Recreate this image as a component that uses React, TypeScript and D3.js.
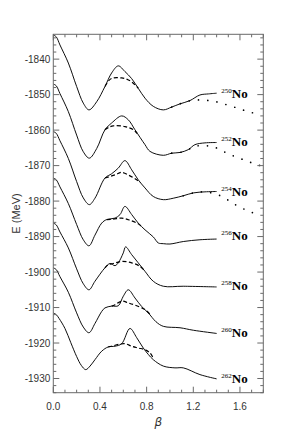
import React from "react";
import * as d3 from "d3";

type P = [number, number];

const nuclei = ["250", "252", "254", "256", "258", "260", "262"];
const labelE = [-1851.0, -1864.6, -1878.7, -1890.9, -1905.0, -1918.3, -1931.2];
const labelBeta = 1.44;

const solid250: P[] = [[0,-1833.2],[0.025,-1833.7],[0.057,-1836.0],[0.129,-1841.1],[0.2,-1847.7],[0.257,-1852.4],[0.306,-1854.3],[0.372,-1852.0],[0.443,-1847.7],[0.5,-1843.9],[0.557,-1841.9],[0.614,-1843.5],[0.672,-1845.5],[0.728,-1848.2],[0.786,-1851.0],[0.857,-1853.3],[0.943,-1854.3],[1.015,-1853.5],[1.086,-1852.6],[1.17,-1851.7],[1.257,-1850.1],[1.33,-1849.8],[1.4,-1849.6]];
const dashed250: P[] = [[0.443,-1847.7],[0.48,-1845.9],[0.514,-1845.3],[0.586,-1845.3],[0.64,-1845.8],[0.686,-1846.8],[0.728,-1848.2]];
const dotted250: P[] = [[1.015,-1853.5],[1.086,-1852.6],[1.17,-1851.7],[1.257,-1851.5],[1.343,-1851.7],[1.422,-1852.2],[1.508,-1853.1],[1.589,-1853.9],[1.668,-1854.8],[1.751,-1855.4]];

const solid252: P[] = [[0,-1847.0],[0.025,-1847.5],[0.057,-1849.7],[0.129,-1854.8],[0.2,-1861.4],[0.257,-1866.1],[0.309,-1867.9],[0.372,-1865.2],[0.443,-1859.9],[0.5,-1858.0],[0.586,-1856.0],[0.643,-1857.1],[0.7,-1859.9],[0.786,-1864.1],[0.829,-1866.0],[0.943,-1867.1],[1.015,-1866.5],[1.086,-1866.3],[1.157,-1865.5],[1.214,-1864.1],[1.3,-1863.6],[1.4,-1863.5]];
const dashed252: P[] = [[0.443,-1859.9],[0.471,-1859.3],[0.514,-1858.8],[0.614,-1859.0],[0.686,-1859.9],[0.72,-1861.0]];
const dotted252: P[] = [[1.015,-1866.5],[1.086,-1866.3],[1.157,-1865.5],[1.2,-1864.6],[1.285,-1864.4],[1.362,-1864.6],[1.431,-1865.5],[1.5,-1866.7],[1.572,-1867.6],[1.643,-1868.5],[1.709,-1869.3],[1.78,-1870.1]];

const solid254: P[] = [[0,-1860.4],[0.025,-1860.9],[0.057,-1863.0],[0.129,-1868.0],[0.2,-1874.5],[0.257,-1879.1],[0.309,-1881.0],[0.357,-1879.2],[0.443,-1873.5],[0.5,-1872.3],[0.557,-1870.7],[0.614,-1868.6],[0.672,-1871.2],[0.728,-1874.0],[0.786,-1876.3],[0.857,-1878.7],[0.943,-1879.6],[1.028,-1879.2],[1.114,-1878.5],[1.2,-1877.7],[1.3,-1877.4],[1.4,-1877.3]];
const dashed254: P[] = [[0.443,-1873.5],[0.529,-1872.6],[0.586,-1871.9],[0.657,-1872.9],[0.715,-1874.0],[0.745,-1874.8]];
const dotted254: P[] = [[1.114,-1878.5],[1.2,-1877.7],[1.28,-1877.4],[1.37,-1877.8],[1.457,-1878.9],[1.529,-1880.4],[1.6,-1881.7],[1.68,-1882.9],[1.757,-1883.8]];

const solid256: P[] = [[0,-1873.5],[0.025,-1874.0],[0.057,-1876.0],[0.129,-1880.7],[0.2,-1886.6],[0.257,-1890.9],[0.306,-1892.6],[0.357,-1889.6],[0.415,-1886.2],[0.458,-1885.2],[0.529,-1884.8],[0.572,-1883.8],[0.614,-1881.5],[0.672,-1883.8],[0.728,-1886.2],[0.786,-1888.1],[0.857,-1890.1],[0.9,-1891.8],[0.943,-1892.0],[1.0,-1892.1],[1.114,-1891.4],[1.257,-1890.9],[1.4,-1890.7]];
const dashed256: P[] = [[0.458,-1885.2],[0.514,-1885.1],[0.586,-1884.8],[0.657,-1885.4],[0.728,-1886.4],[0.76,-1887.3]];

const solid258: P[] = [[0,-1886.2],[0.025,-1886.7],[0.057,-1888.7],[0.129,-1893.2],[0.2,-1899.1],[0.257,-1903.3],[0.306,-1905.0],[0.357,-1902.6],[0.443,-1898.8],[0.486,-1897.6],[0.529,-1898.2],[0.557,-1897.4],[0.6,-1894.6],[0.62,-1892.9],[0.672,-1895.1],[0.728,-1897.4],[0.786,-1899.8],[0.857,-1902.6],[0.943,-1904.0],[1.114,-1904.0],[1.4,-1904.2]];
const dashed258: P[] = [[0.443,-1898.8],[0.471,-1897.9],[0.514,-1897.6],[0.586,-1897.0],[0.672,-1897.4],[0.743,-1898.4],[0.786,-1899.8]];

const solid260: P[] = [[0,-1898.8],[0.025,-1899.3],[0.057,-1901.3],[0.129,-1905.7],[0.2,-1911.5],[0.257,-1915.5],[0.306,-1917.1],[0.357,-1914.5],[0.415,-1911.1],[0.443,-1910.1],[0.5,-1909.6],[0.557,-1909.5],[0.6,-1906.8],[0.643,-1905.0],[0.7,-1907.3],[0.757,-1909.7],[0.814,-1911.5],[0.88,-1914.0],[0.943,-1915.3],[1.086,-1915.7],[1.2,-1916.4],[1.4,-1917.3]];
const dashed260: P[] = [[0.5,-1909.6],[0.529,-1909.2],[0.586,-1908.2],[0.643,-1908.7],[0.715,-1909.5],[0.786,-1910.6],[0.829,-1911.9]];

const solid262: P[] = [[0,-1911.5],[0.025,-1912.0],[0.05,-1913.1],[0.1,-1915.9],[0.15,-1919.9],[0.2,-1923.8],[0.24,-1926.3],[0.278,-1927.5],[0.315,-1926.5],[0.357,-1924.7],[0.415,-1922.3],[0.471,-1921.1],[0.529,-1920.9],[0.586,-1920.2],[0.657,-1915.9],[0.715,-1918.5],[0.771,-1921.4],[0.814,-1923.2],[0.857,-1924.7],[0.943,-1926.5],[1.043,-1927.0],[1.114,-1927.0],[1.257,-1928.9],[1.4,-1930.1]];
const dashed262: P[] = [[0.471,-1921.1],[0.5,-1920.9],[0.557,-1920.4],[0.614,-1920.2],[0.672,-1920.9],[0.728,-1921.4],[0.786,-1921.9],[0.829,-1922.8],[0.86,-1924.5]];

const solidSeries = [solid250, solid252, solid254, solid256, solid258, solid260, solid262];
const dashedSeries = [dashed250, dashed252, dashed254, dashed256, dashed258, dashed260, dashed262];
const dottedSeries = [dotted250, dotted252, dotted254];

const xMajorTicks = [0, 0.4, 0.8, 1.2, 1.6];
const xTickLabels = ["0.0", "0.4", "0.8", "1.2", "1.6"];
const yMajorTicks = [-1840, -1850, -1860, -1870, -1880, -1890, -1900, -1910, -1920, -1930];
const xDomain: [number, number] = [0, 1.8];
const yDomain: [number, number] = [-1934, -1833];

const W = 299, H = 436;
const L = 53.3, R = 263.3, T = 34.3, B = 392.7;

export default function App() {
  const x = d3.scaleLinear().domain(xDomain).range([L, R]);
  const y = d3.scaleLinear().domain(yDomain).range([B, T]);
  const line = d3.line<P>().x(d => x(d[0])).y(d => y(d[1])).curve(d3.curveCatmullRom.alpha(0.5));

  const xMinor = d3.range(0, 1.8001, 0.1).filter(v => !xMajorTicks.some(m => Math.abs(m - v) < 1e-6));
  const yMinor = d3.range(-1934, -1832, 1).filter(v => v % 2 === 0 && v % 10 !== 0);
  const axisColor = "#6a6a6a";
  const textColor = "#333";
  const major = 6, minor = 3;

  return (
    <svg width={W} height={H} style={{ position: "absolute", left: 0, top: 0, background: "#fff" }}>
      <defs>
        <clipPath id="plot"><rect x={L} y={T} width={R - L} height={B - T} /></clipPath>
      </defs>
      <g clipPath="url(#plot)" fill="none" stroke="#000">
        {solidSeries.map((s, i) => <path key={"s" + i} d={line(s) || ""} strokeWidth={0.95} />)}
        {dashedSeries.map((s, i) => <path key={"d" + i} d={line(s) || ""} strokeWidth={1.2} strokeDasharray="4 2.4" />)}
        {dottedSeries.map((s, i) => <path key={"o" + i} d={line(s) || ""} strokeWidth={1.7} strokeDasharray="0 9.3" strokeLinecap="round" />)}
      </g>
      <g stroke={axisColor} strokeWidth={1}>
        <rect x={L} y={T} width={R - L} height={B - T} fill="none" />
        {xMajorTicks.map(v => (
          <g key={"xm" + v}>
            <line x1={x(v)} x2={x(v)} y1={B} y2={B - major} />
            <line x1={x(v)} x2={x(v)} y1={T} y2={T + major} />
          </g>
        ))}
        {xMinor.map(v => (
          <g key={"xn" + v}>
            <line x1={x(v)} x2={x(v)} y1={B} y2={B - minor} />
            <line x1={x(v)} x2={x(v)} y1={T} y2={T + minor} />
          </g>
        ))}
        {yMajorTicks.map(v => (
          <g key={"ym" + v}>
            <line x1={L} x2={L + major} y1={y(v)} y2={y(v)} />
            <line x1={R} x2={R - major} y1={y(v)} y2={y(v)} />
          </g>
        ))}
        {yMinor.map(v => (
          <g key={"yn" + v}>
            <line x1={L} x2={L + minor} y1={y(v)} y2={y(v)} />
            <line x1={R} x2={R - minor} y1={y(v)} y2={y(v)} />
          </g>
        ))}
      </g>
      <g fontFamily="'Liberation Sans', Arial, sans-serif" fontSize={10} fill={textColor}>
        {xMajorTicks.map((v, i) => (
          <text key={"xl" + v} x={x(v)} y={B + 17} textAnchor="middle">{xTickLabels[i]}</text>
        ))}
        {yMajorTicks.map(v => (
          <text key={"yl" + v} x={L - 3} y={y(v)} dy="0.35em" textAnchor="end">{String(v)}</text>
        ))}
        <text transform={`translate(19.5,${(T + B) / 2 + 0}) rotate(-90)`} textAnchor="middle" fontSize={11}>E (MeV)</text>
        <text x={(L + R) / 2} y={B + 33} textAnchor="middle" fontSize={12} fontStyle="italic" fontFamily="'DejaVu Sans', sans-serif">β</text>
      </g>
      <g fontFamily="'Liberation Serif', 'Times New Roman', serif" fill="#000">
        {nuclei.map((n, i) => (
          <text key={"lab" + n} x={x(labelBeta)} y={y(labelE[i])}>
            <tspan fontSize={7} dy={-5}>{n}</tspan>
            <tspan fontSize={13} fontWeight="bold" dy={5}>No</tspan>
          </text>
        ))}
      </g>
    </svg>
  );
}
